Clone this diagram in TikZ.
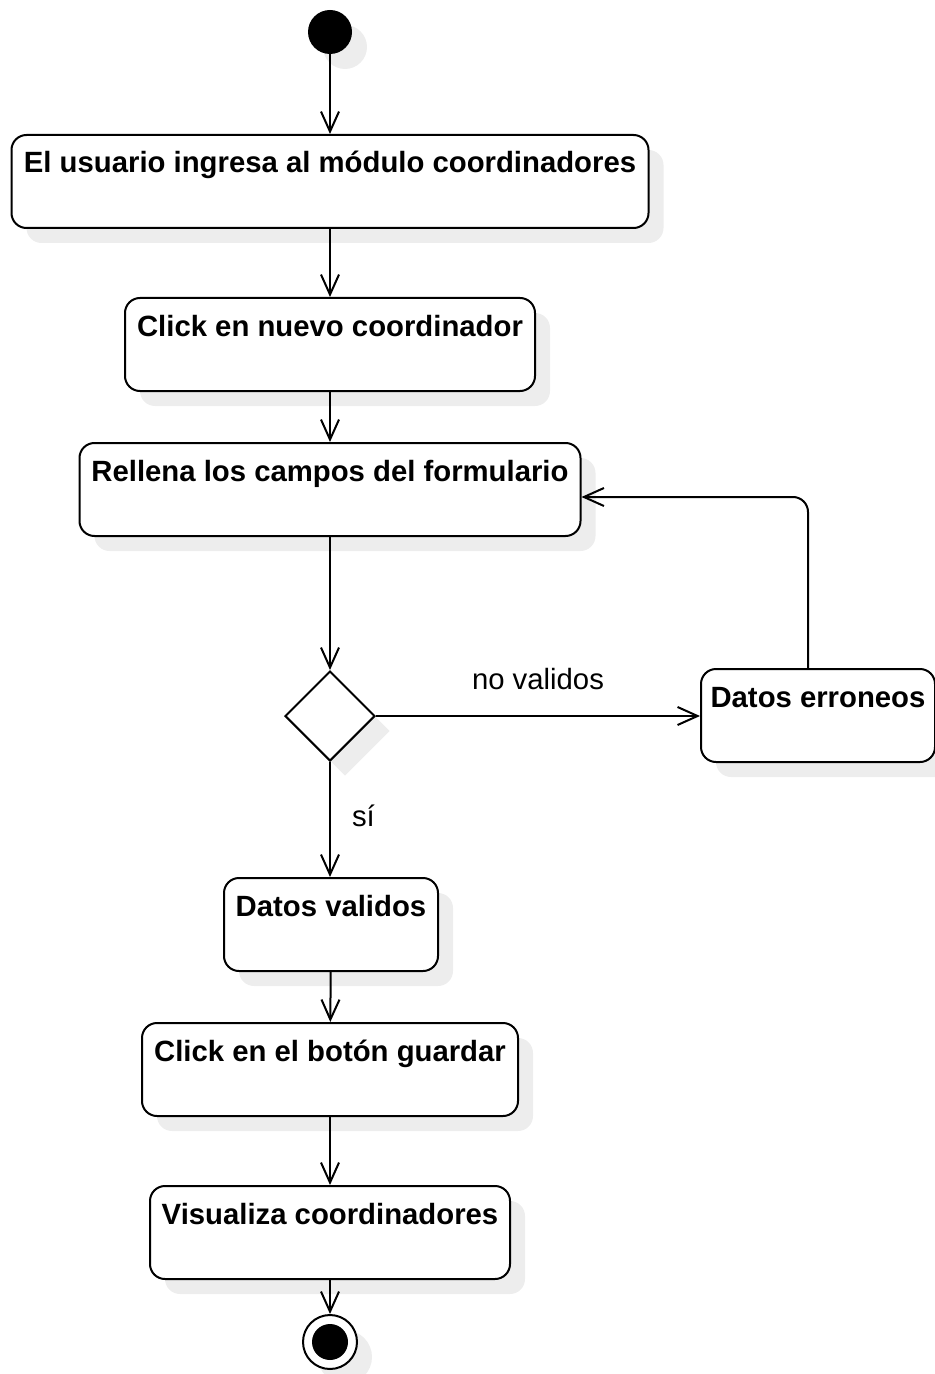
\documentclass[tikz,border=0pt]{standalone}
\usepackage{fontspec}
\setmainfont{Liberation Sans}
\usepackage{tikz}
\usetikzlibrary{shapes.geometric,arrows.meta,positioning,shadows}

\tikzset{
  sombra/.style={drop shadow={shadow xshift=7.5pt,shadow yshift=-7.5pt,fill=black!7,opacity=1}},
  accion/.style={draw,line width=1pt,fill=white,rounded corners=7.5pt,inner xsep=0pt,inner ysep=0pt,text height=19pt,text depth=27.5pt,anchor=north,sombra,font=\bfseries\fontsize{14.65}{17}\selectfont},
  flecha/.style={-{Straight Barb[length=10pt,width=9pt]},line width=1pt},
  etiq/.style={inner sep=0pt,font=\fontsize{14.65}{17}\selectfont}
}

\begin{document}
\begin{tikzpicture}[x=0.5pt,y=-0.5pt]
  \useasboundingbox (0,0) rectangle (934,1374);
  % inicio y fin
  \node[circle,fill=black,minimum size=22pt,inner sep=0pt,sombra] (ini) at (330,32) {};
  \node[circle,draw,line width=1pt,fill=white,minimum size=27pt,inner sep=0pt,sombra] (fin) at (330,1342) {};
  \node[circle,fill=black,minimum size=18pt,inner sep=0pt] (finc) at (fin) {};
  % acciones
  \node[accion,minimum width=318.5pt] (b1) at (330,134) {El usuario ingresa al módulo coordinadores};
  \node[accion,minimum width=205pt] (b2) at (330,297) {Click en nuevo coordinador};
  \node[accion,minimum width=250.5pt] (b3) at (330,442) {Rellena los campos del formulario};
  \node[diamond,draw,line width=1pt,fill=white,minimum width=45pt,minimum height=45pt,inner sep=0pt,sombra] (dec) at (330,716) {};
  \node[accion,minimum width=117pt] (err) at (818,668) {Datos erroneos};
  \node[accion,minimum width=107pt] (valid) at (331,877) {Datos validos};
  \node[accion,minimum width=188pt] (guard) at (330,1022) {Click en el botón guardar};
  \node[accion,minimum width=180pt] (vis) at (330,1185) {Visualiza coordinadores};
  \coordinate (codo) at (808,497);
  % flujo
  \foreach \x/\y in {ini/b1,b1/b2,b2/b3,b3/dec,valid/guard,guard/vis,vis/fin}{\draw[flecha] (\x)--(\y);}
  \draw[flecha] (dec.east) -- node[etiq,midway,above=12.5pt] (lno) {no validos} (err.west |- dec.east);
  \draw[flecha] (dec.south) -- node[etiq,midway,right=10.5pt,yshift=2pt] (lsi) {sí} (valid.north -| dec.south);
  \draw[flecha,rounded corners=7.5pt] (err.north -| codo) |- (b3.east |- codo);
\end{tikzpicture}
\end{document}
